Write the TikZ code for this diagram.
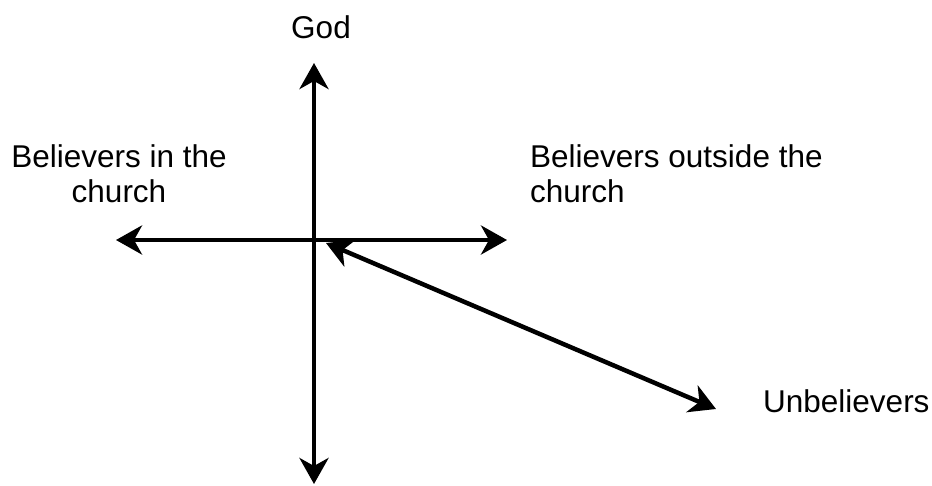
\documentclass[tikz,border=0pt]{standalone}
\usepackage{fontspec}
\setmainfont{Liberation Sans}
\usetikzlibrary{arrows.meta,positioning}

\begin{document}
\begin{tikzpicture}[x=1pt,y=-1pt,
  axis/.style={line width=4.5pt, {Stealth[length=26pt,width=29pt,inset=8pt]}-{Stealth[length=26pt,width=29pt,inset=8pt]}},
  lbl/.style={inner sep=0pt, anchor=base, font=\fontsize{31.5}{35}\selectfont}]
  \useasboundingbox (0,0) rectangle (932,485);
  % ends of the axes
  \coordinate (up) at (314,63);
  \coordinate (down) at (314,484);
  \coordinate (left) at (116,240);
  \coordinate (right) at (507,240);
  \coordinate (mid) at (326,243);
  \coordinate (far) at (716,409);
  \draw[axis] (down) -- (up);
  \draw[axis] (left) -- (right);
  \draw[axis] (mid) -- (far);
  % labels
  \node[lbl] (god) at (321,38) {God};
  \node[lbl, align=center] (inside) at (119,202) {Believers in the\\church};
  \node[lbl, align=left, anchor=base west] (outside) at (530,202) {Believers outside the\\church};
  \node[lbl, anchor=base west] (unbel) at (763,412) {Unbelievers};
\end{tikzpicture}
\end{document}
